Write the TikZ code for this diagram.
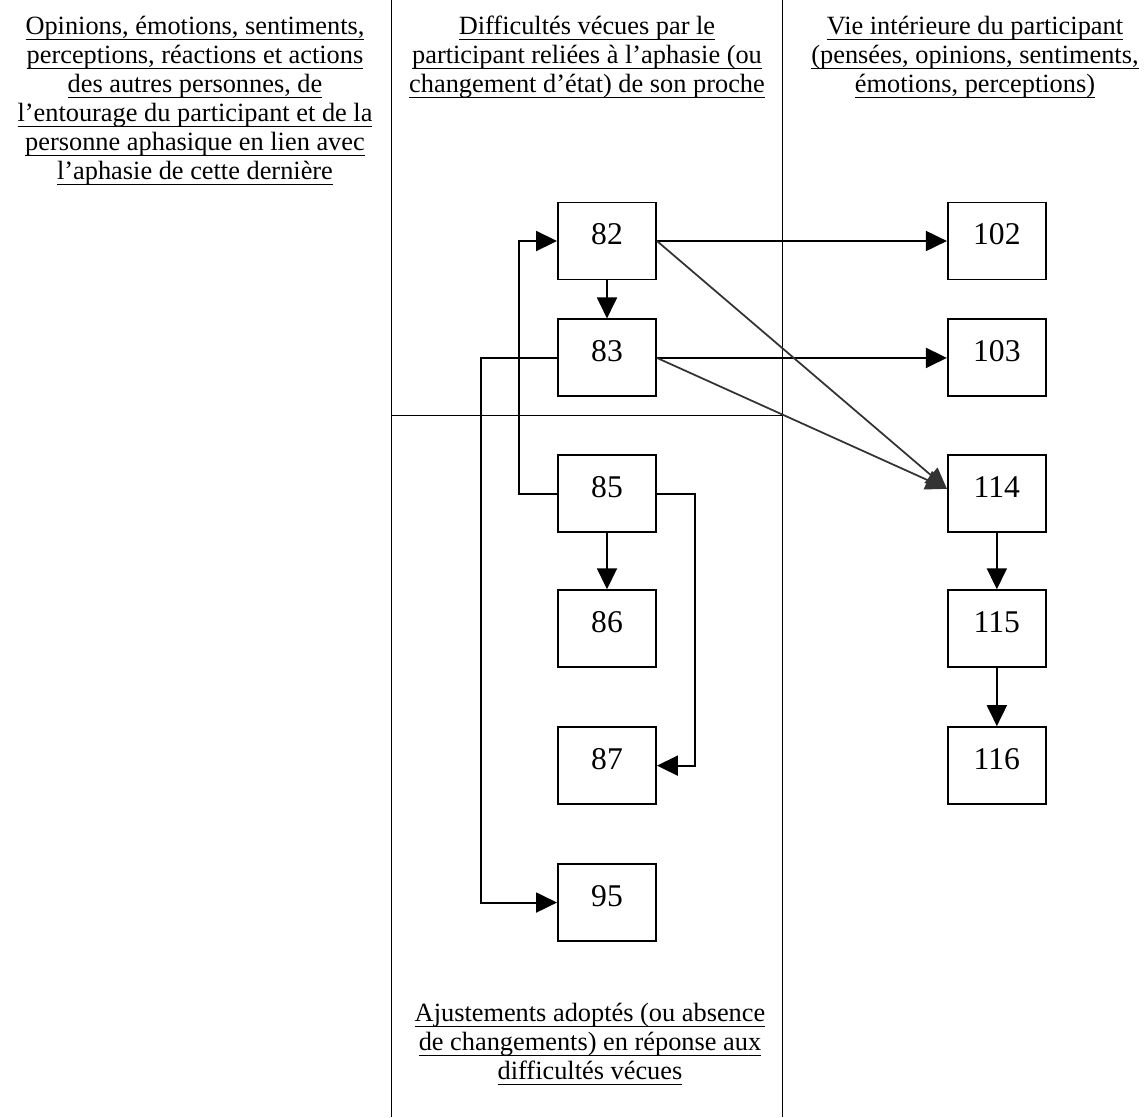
\documentclass[tikz,border=0pt]{standalone}
\usepackage{fontspec}
\setmainfont{Liberation Serif}
\usetikzlibrary{positioning,arrows.meta}
\newcommand{\ul}[1]{\underline{\smash{#1}\rule[-1.3pt]{0pt}{1.3pt}}}
\tikzset{
	box/.style={draw, line width=1.1pt, minimum width=1.96cm, minimum height=1.54cm, inner sep=0pt, text depth=0.28cm, font=\fontsize{18}{20}\selectfont},
	link/.style={line width=1.1pt, -{Triangle[length=0.42cm,width=0.4cm]}},
	slant/.style={link, black!80, line width=1pt},
	divider/.style={line width=0.45pt},
	heading/.style={anchor=north, align=center, inner sep=0pt, font=\fontsize{15}{16.5}\selectfont},
}

\begin{document}
\begin{tikzpicture}[x=0.02cm, y=-0.02cm]
\useasboundingbox (0,0) rectangle (1147,1117);

	\draw[divider] (391,0) -- (391,1117);
	\draw[divider] (782,0) -- (782,1117);
	\draw[divider] (391,415) -- (782,415);

	\node[heading] (others) at (195,34) {\ul{Opinions, émotions, sentiments,}\\\ul{perceptions, réactions et actions}\\\ul{des autres personnes, de}\\\ul{l’entourage du participant et de la}\\\ul{personne aphasique en lien avec}\\\ul{l’aphasie de cette dernière}};
	\node[heading] (difficulties) at (587,34) {\ul{Difficultés vécues par le}\\\ul{participant reliées à l’aphasie (ou}\\\ul{changement d’état) de son proche}};
	\node[heading] (inner) at (975,34) {\ul{Vie intérieure du participant}\\\ul{(pensées, opinions, sentiments,}\\\ul{émotions, perceptions)}};
	\node[heading] (adjust) at (590,1021) {\ul{Ajustements adoptés (ou absence}\\\ul{de changements) en réponse aux}\\\ul{difficultés vécues}};

	\node[box] (b82) at (607,241) {82};
	\node[box, below=0.76cm of b82] (b83) {83};
	\node[box, below=1.14cm of b83] (b85) {85};
	\node[box, below=1.12cm of b85] (b86) {86};
	\node[box, below=1.16cm of b86] (b87) {87};
	\node[box, below=1.16cm of b87] (b95) {95};
	\node[box, right=5.8cm of b82] (b102) {102};
	\node[box, below=0.76cm of b102] (b103) {103};
	\node[box, below=1.14cm of b103] (b114) {114};
	\node[box, below=1.12cm of b114] (b115) {115};
	\node[box, below=1.16cm of b115] (b116) {116};

	\draw[link] (b82) -- (b83);
	\draw[link] (b82) -- (b102);
	\draw[link] (b83) -- (b103);
	\draw[slant] (b82.east) -- ([yshift=0.1cm]b114.west);
	\draw[slant] (b83.east) -- ([yshift=0.1cm]b114.west);
	\draw[link] (b114) -- (b115);
	\draw[link] (b115) -- (b116);
	\draw[link] (b85) -- (b86);
	\draw[link] (b85.west) -- ++(-0.76cm,0) |- (b82.west);
	\draw[link] (b83.west) -- ++(-1.52cm,0) |- (b95.west);
	\draw[link] (b85.east) -- ++(0.76cm,0) |- (b87.east);
\end{tikzpicture}
\end{document}
